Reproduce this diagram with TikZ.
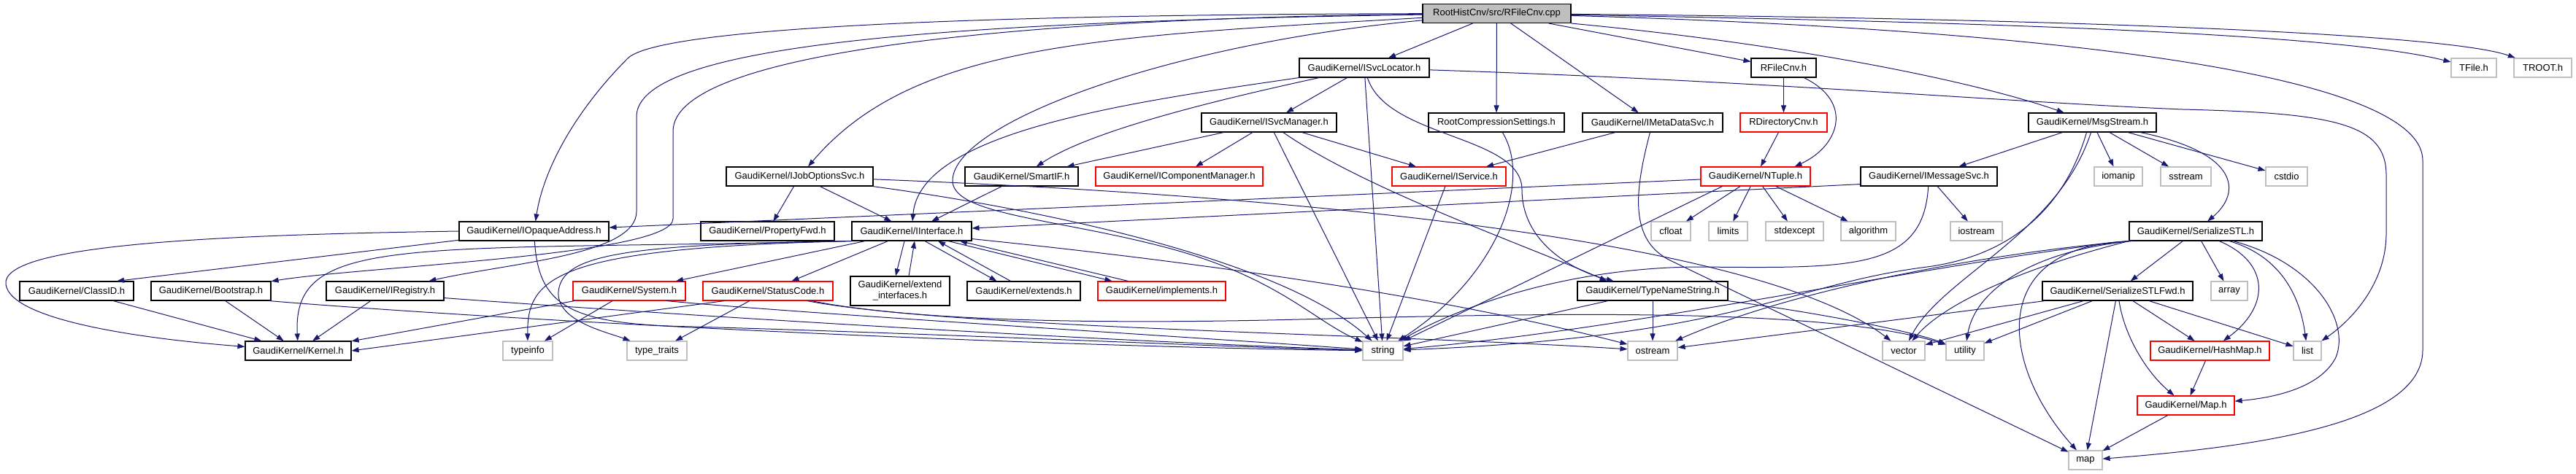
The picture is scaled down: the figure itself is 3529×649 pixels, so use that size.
\documentclass[tikz,border=0pt]{standalone}
\usepackage{fontspec}
\setmainfont{Liberation Sans}
\usetikzlibrary{arrows.meta,calc}
\definecolor{edgec}{RGB}{25,25,112}
\definecolor{gbord}{RGB}{191,191,191}
\definecolor{rbord}{RGB}{255,0,0}
\definecolor{rootfill}{RGB}{191,191,191}
\tikzset{
 nb/.style={draw=black, line width=1.1pt, inner sep=0pt, minimum height=26pt, font=\fontsize{13}{15}\selectfont, text=black},
 bx/.style={nb},
 gx/.style={nb, draw=gbord},
 rx/.style={nb, draw=rbord},
 tx/.style={nb, fill=rootfill},
 ln/.style={draw=edgec, line width=1.0pt, -{Triangle[length=10pt,width=7pt]}},
}
\newcommand{\mkn}[6]{%
  \pgfmathsetmacro{\mknw}{#4-#3}%
  \pgfmathsetmacro{\mknc}{(#3+#4)/2}%
  \node[#1, minimum width=\mknw pt] (#2) at (\mknc,#5) {#6};}
\begin{document}
\begin{tikzpicture}[x=1pt,y=-1pt]
\useasboundingbox (0,0) rectangle (3529,649);
\fill[white] (0,0) rectangle (3529,649);
% ---------- nodes ----------
\mkn{tx}{nroot}{1949}{2152}{18.5}{RootHistCnv/src/RFileCnv.cpp}
\mkn{bx}{nsvcloc}{1780}{1958}{93}{GaudiKernel/ISvcLocator.h}
\mkn{bx}{nrfh}{2399}{2488}{93}{RFileCnv.h}
\mkn{gx}{ntfile}{3358}{3420}{93}{TFile.h}
\mkn{gx}{ntroot}{3444}{3523}{93}{TROOT.h}
\mkn{bx}{nsvcman}{1646}{1831}{168}{GaudiKernel/ISvcManager.h}
\mkn{bx}{nrcs}{1957}{2143}{168}{RootCompressionSettings.h}
\mkn{bx}{nmeta}{2168}{2360}{168}{GaudiKernel/IMetaDataSvc.h}
\mkn{rx}{nrdir}{2384}{2503}{168}{RDirectoryCnv.h}
\mkn{bx}{nmsg}{2779}{2954}{168}{GaudiKernel/MsgStream.h}
\mkn{bx}{njos}{995}{1196}{242}{GaudiKernel/IJobOptionsSvc.h}
\mkn{bx}{nsmart}{1322}{1477}{242}{GaudiKernel/SmartIF.h}
\mkn{rx}{ncompman}{1501}{1730}{242}{GaudiKernel/IComponentManager.h}
\mkn{rx}{nisvc}{1907}{2063}{242}{GaudiKernel/IService.h}
\mkn{rx}{ntuple}{2330}{2480}{242}{GaudiKernel/NTuple.h}
\mkn{bx}{nmsgsvc}{2549}{2736}{242}{GaudiKernel/IMessageSvc.h}
\mkn{gx}{niomanip}{2869}{2935}{242}{iomanip}
\mkn{gx}{nsstream}{2960}{3029}{242}{sstream}
\mkn{gx}{ncstdio}{3104}{3161}{242}{cstdio}
\mkn{bx}{nopaque}{629}{834}{317}{GaudiKernel/IOpaqueAddress.h}
\mkn{bx}{npropfwd}{960}{1143}{317}{GaudiKernel/PropertyFwd.h}
\mkn{bx}{niface}{1167}{1331}{317}{GaudiKernel/IInterface.h}
\mkn{gx}{ncfloat}{2262}{2316}{317}{cfloat}
\mkn{gx}{nlimits}{2341}{2394}{317}{limits}
\mkn{gx}{nstdexcept}{2419}{2498}{317}{stdexcept}
\mkn{gx}{nalgorithm}{2522}{2597}{317}{algorithm}
\mkn{gx}{niostream}{2672}{2743}{317}{iostream}
\mkn{bx}{nser}{2917}{3099}{317}{GaudiKernel/SerializeSTL.h}
\mkn{bx}{nclassid}{27}{183}{399}{GaudiKernel/ClassID.h}
\mkn{bx}{nboot}{207}{371}{399}{GaudiKernel/Bootstrap.h}
\mkn{bx}{nireg}{447}{608}{399}{GaudiKernel/IRegistry.h}
\mkn{rx}{nsys}{785}{939}{399}{GaudiKernel/System.h}
\mkn{rx}{nsc}{963}{1141}{399}{GaudiKernel/StatusCode.h}
\node[bx, minimum width=136pt, minimum height=40pt, align=center] (nextif) at (1233,399) {GaudiKernel/extend\\\_interfaces.h};
\mkn{bx}{nextends}{1325}{1480}{399}{GaudiKernel/extends.h}
\mkn{rx}{nimpl}{1504}{1679}{399}{GaudiKernel/implements.h}
\mkn{bx}{ntns}{2161}{2367}{399}{GaudiKernel/TypeNameString.h}
\mkn{bx}{nserfwd}{2798}{3004}{399}{GaudiKernel/SerializeSTLFwd.h}
\mkn{gx}{narray}{3029}{3079}{399}{array}
\mkn{bx}{nkernel}{336}{481}{481}{GaudiKernel/Kernel.h}
\mkn{gx}{ntypeinfo}{689}{757}{481}{typeinfo}
\mkn{gx}{nttraits}{859}{941}{481}{type\_traits}
\mkn{gx}{nstr}{1867}{1922}{481}{string}
\mkn{gx}{nostream}{2230}{2298}{481}{ostream}
\mkn{gx}{nvector}{2579}{2637}{481}{vector}
\mkn{gx}{nutility}{2666}{2718}{481}{utility}
\mkn{rx}{nhashmap}{2946}{3109}{481}{GaudiKernel/HashMap.h}
\mkn{gx}{nlst}{3142}{3180}{481}{list}
\mkn{rx}{nmaph}{2928}{3061}{556}{GaudiKernel/Map.h}
\mkn{gx}{nmapn}{2834}{2880}{631}{map}
% ---------- edges: root ----------
\draw[ln] (nroot) .. controls (1300,20) and (900,40) .. (860,80) .. controls (790,150) and (745,230) .. (nopaque);
\draw[ln] (nroot) .. controls (1300,30) and (872,60) .. (872,160) -- (872,290) .. controls (872,350) and (700,360) .. (nireg);
\draw[ln] (nroot) .. controls (1400,25) and (922,70) .. (922,180) -- (922,300) .. controls (922,350) and (500,365) .. (nboot);
\draw[ln] (nroot) .. controls (1500,50) and (1250,60) .. (njos);
\draw[ln] (nroot) .. controls (1600,60) and (1300,170) .. (1305,250) .. controls (1310,295) and (1450,300) .. (1600,340) .. controls (1750,380) and (1800,440) .. (nstr);
\draw[ln] (nroot) -- (nsvcloc);
\draw[ln] (nroot) -- (nrcs);
\draw[ln] (nroot) -- (nmeta);
\draw[ln] (nroot) -- (nrfh);
\draw[ln] (nroot.south east) .. controls (2450,60) and (2700,110) .. (nmsg);
\draw[ln] (nroot) .. controls (2700,30) and (3200,45) .. (ntfile);
\draw[ln] (nroot) .. controls (2800,25) and (3350,45) .. (ntroot);
\draw[ln] (nroot) .. controls (2800,40) and (3319,100) .. (3319,220) -- (3319,480) .. controls (3319,580) and (3100,612) .. (nmapn);
% ---------- ISvcLocator ----------
\draw[ln] (nsvcloc) -- (nsvcman);
\draw[ln] (nsvcloc) -- (nstr);
\draw[ln] (nsvcloc) .. controls (1900,190) and (2085,185) .. (2085,260) .. controls (2085,330) and (2150,370) .. (ntns);
\draw[ln] (nsvcloc) .. controls (2400,110) and (2750,140) .. (2990,150) .. controls (3200,155) and (3269,170) .. (3269,240) -- (3269,320) .. controls (3269,390) and (3220,440) .. (nlst);
\draw[ln] (nsvcloc) .. controls (1700,130) and (1500,175) .. (nsmart);
\draw[ln] (nsvcloc.south west) .. controls (1550,140) and (1260,180) .. (niface);
% ---------- ISvcManager ----------
\draw[ln] (nsvcman) -- (nsmart);
\draw[ln] (nsvcman) -- (ncompman);
\draw[ln] (nsvcman) -- (nstr);
\draw[ln] (nsvcman) .. controls (1870,260) and (2100,340) .. ($(ntns.north west)+(41,0)$);
\draw[ln] (nsvcman) -- (nisvc);
% ---------- IJobOptionsSvc ----------
\draw[ln] (njos) -- (npropfwd);
\draw[ln] (njos) -- (niface);
\draw[ln] (njos) .. controls (1450,290) and (1760,360) .. (nstr);
\draw[ln] (njos) .. controls (1700,265) and (2400,320) .. (nvector);
% ---------- misc upper ----------
\draw[ln] (nsmart) -- (niface);
\draw[ln] (nisvc) -- (nstr);
\draw[ln] (nrcs) .. controls (2100,250) and (2050,380) .. (nstr);
\draw[ln] (nmeta) -- (nisvc);
\draw[ln] (nmeta) .. controls (2240,260) and (2230,330) .. (2290,358) -- (nmapn);
\draw[ln] (nrfh) -- (nrdir);
\draw[ln] (nrfh) .. controls (2540,140) and (2520,200) .. ($(ntuple.north east)+(-22,0)$);
\draw[ln] (nrdir) -- (ntuple);
% ---------- NTuple ----------
\draw[ln] (ntuple) -- (ncfloat);
\draw[ln] (ntuple) -- (nlimits);
\draw[ln] (ntuple) -- (nstdexcept);
\draw[ln] (ntuple) -- (nalgorithm);
\draw[ln] ($(ntuple.south west)+(30,0)$) -- (nstr);
\draw[ln] ($(ntuple.west)+(0,4)$) -- ($(nopaque.east)+(0,-5)$);
% ---------- IMessageSvc ----------
\draw[ln] ($(nmsgsvc.south west)+(0,-3)$) -- ($(niface.east)+(0,-4)$);
\draw[ln] (nmsgsvc) -- (niostream);
\draw[ln] (nmsgsvc) .. controls (2635,370) and (2540,368) .. (2330,366) .. controls (2150,366) and (2000,420) .. (nstr);
% ---------- MsgStream ----------
\draw[ln] (nmsg) -- (nmsgsvc);
\draw[ln] (nmsg) -- (niomanip);
\draw[ln] (nmsg) -- (nsstream);
\draw[ln] (nmsg) -- (ncstdio);
\draw[ln] (nmsg) .. controls (3070,210) and (3070,265) .. (nser);
\draw[ln] ($(nmsg.south)+(-8,0)$) .. controls (2830,280) and (2760,350) .. (2640,366) .. controls (2450,390) and (2380,462) .. (nstr);
\draw[ln] ($(nmsg.south)+(-2,0)$) .. controls (2820,320) and (2660,380) .. (nvector);
% ---------- SerializeSTL ----------
\draw[ln] (nser) -- (nserfwd);
\draw[ln] (nser) -- (narray);
\draw[ln] (nser) .. controls (3110,360) and (3110,420) .. (nhashmap);
\draw[ln] (nser) .. controls (3120,350) and (3150,400) .. (nlst);
\draw[ln] (nser) .. controls (3170,360) and (3220,440) .. (3200,490) .. controls (3180,530) and (3120,545) .. (nmaph);
\draw[ln] ($(nser.south west)+(6,0)$) .. controls (2720,335) and (2740,500) .. (nmapn);
\draw[ln] ($(nser.south west)+(3,0)$) .. controls (2780,345) and (2705,400) .. (nutility);
\draw[ln] (nser.south west) .. controls (2760,370) and (2660,420) .. (nvector);
\draw[ln] (nser.south west) .. controls (2700,350) and (2450,400) .. (nostream);
\draw[ln] (nser.south west) .. controls (2650,360) and (2250,450) .. (nstr);
% ---------- SerializeSTLFwd ----------
\draw[ln] (nserfwd) -- (nhashmap);
\draw[ln] (nserfwd) -- (nlst);
\draw[ln] (nserfwd) .. controls (2910,460) and (2940,510) .. (nmaph);
\draw[ln] (nserfwd) -- (nmapn);
\draw[ln] (nserfwd) -- (nutility);
\draw[ln] ($(nserfwd.south west)+(57,0)$) -- (nvector);
\draw[ln] ($(nserfwd.south west)+(4,0)$) -- (nostream);
\draw[ln] (nhashmap) -- (nmaph);
\draw[ln] (nmaph) -- (nmapn);
% ---------- TypeNameString ----------
\draw[ln] (ntns) -- (nstr);
\draw[ln] (ntns) -- (nostream);
\draw[ln] (ntns) .. controls (2500,430) and (2620,455) .. (nutility);
% ---------- StatusCode ----------
\draw[ln] ($(nsc.south west)+(30,0)$) -- (nkernel.east);
\draw[ln] (nsc) -- (nttraits);
\draw[ln] ($(nsc.south east)+(-36,0)$) .. controls (1300,450) and (1900,458) .. (nostream);
\draw[ln] ($(nsc.south east)+(-30,0)$) .. controls (1250,440) and (1500,445) .. (1780,438) .. controls (2100,430) and (2500,420) .. (nutility);
% ---------- System ----------
\draw[ln] (nsys) -- (nkernel);
\draw[ln] (nsys) -- (ntypeinfo);
\draw[ln] ($(nsys.south east)+(-27,0)$) .. controls (1100,430) and (1600,460) .. (nstr);
% ---------- Bootstrap / IRegistry / ClassID ----------
\draw[ln] (nboot) -- (nkernel);
\draw[ln] ($(nboot.south east)+(-3,0)$) .. controls (700,440) and (1400,475) .. (nstr);
\draw[ln] (nireg) -- (nkernel);
\draw[ln] ($(nireg.south east)+(0,-4)$) .. controls (900,430) and (1450,465) .. (nstr);
\draw[ln] (nclassid) -- (nkernel);
% ---------- IOpaqueAddress ----------
\draw[ln] (nopaque) -- ($(nclassid.north)+(55,0)$);
\draw[ln] (nopaque.west) .. controls (300,322) and (0,335) .. (8,390) .. controls (15,440) and (200,465) .. (nkernel);
\draw[ln] (nopaque) .. controls (738,420) and (780,445) .. (950,448) .. controls (1300,458) and (1650,475) .. (nstr);
% ---------- IInterface ----------
\draw[ln] (niface) -- (nsys);
\draw[ln] (niface) -- (nsc);
\draw[ln] ($(niface.south)+(-10,0)$) -- ($(nextif.north)+(-6,0)$);
\draw[ln] ($(nextif.north)+(12,0)$) -- ($(niface.south)+(4,0)$);
\draw[ln] ($(niface.south)+(18,0)$) -- ($(nextends.north)+(-37,0)$);
\draw[ln] ($(nextends.north)+(-18,0)$) -- ($(niface.south)+(36,0)$);
\draw[ln] ($(niface.south)+(50,0)$) -- ($(nimpl.north)+(-68,0)$);
\draw[ln] ($(nimpl.north)+(-46,0)$) -- ($(niface.south)+(66,0)$);
\draw[ln] (niface.south west) .. controls (560,345) and (400,320) .. (nkernel);
\draw[ln] (niface.south west) .. controls (760,340) and (722,380) .. (ntypeinfo);
\draw[ln] (niface.south west) .. controls (850,335) and (770,350) .. (765,400) .. controls (762,440) and (830,455) .. (nttraits);
\draw[ln] ($(niface.south east)+(0,-3)$) .. controls (1600,355) and (1950,400) .. (nostream);
\end{tikzpicture}
\end{document}
